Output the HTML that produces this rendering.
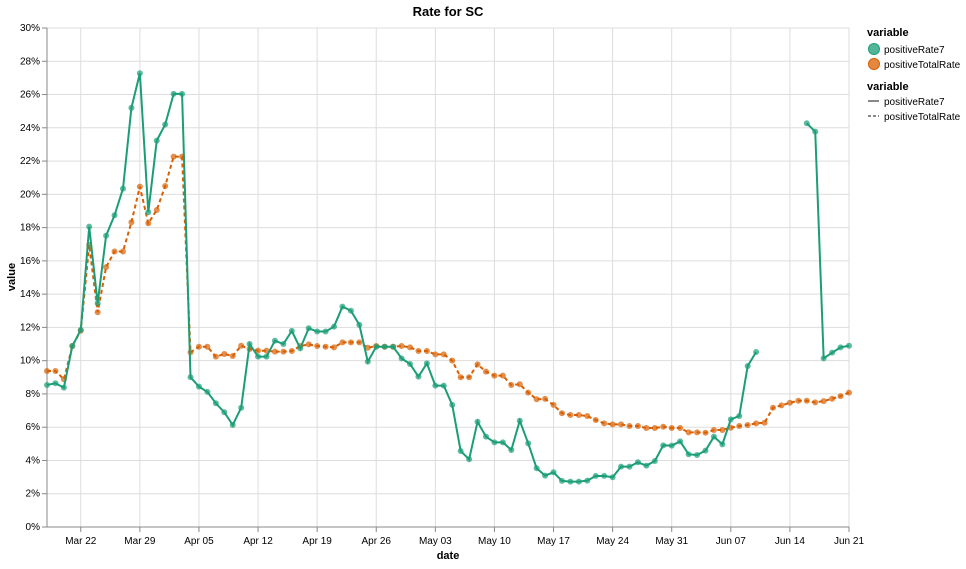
<!DOCTYPE html>
<html><head><meta charset="utf-8"><style>
body{margin:0;background:#fff;font-family:"Liberation Sans",sans-serif;}
svg text{font-family:"Liberation Sans",sans-serif;}
</style></head><body>
<svg id="chart" width="966" height="564">
<g id="grid"></g><g id="axes"></g><g id="marks"></g>
<text x="448" y="16" text-anchor="middle" font-size="13" font-weight="bold">Rate for SC</text>
<text x="448" y="559" text-anchor="middle" font-size="11" font-weight="bold">date</text>
<text transform="translate(15,277) rotate(-90)" text-anchor="middle" font-size="11" font-weight="bold">value</text>
<g>
<text x="867" y="36" font-size="11" font-weight="bold">variable</text>
<circle cx="874" cy="49" r="5.5" fill="#1b9e77" fill-opacity="0.75" stroke="#1b9e77"></circle>
<text x="884" y="53" font-size="10">positiveRate7</text>
<circle cx="874" cy="64" r="5.5" fill="#d95f02" fill-opacity="0.75" stroke="#d95f02"></circle>
<text x="884" y="68" font-size="10">positiveTotalRate</text>
<text x="867" y="90" font-size="11" font-weight="bold">variable</text>
<line x1="868" x2="879" y1="101" y2="101" stroke="#888" stroke-width="2"></line>
<text x="884" y="105" font-size="10">positiveRate7</text>
<line x1="868" x2="879" y1="116" y2="116" stroke="#888" stroke-width="2" stroke-dasharray="3,2"></line>
<text x="884" y="120" font-size="10">positiveTotalRate</text>
</g>
</svg>
<script>
const startDate = "2020-03-18";
const tickDays = [4,11,18,25,32,39,46,53,60,67,74,81,88,95];
const tickLabels = ["Mar 22","Mar 29","Apr 05","Apr 12","Apr 19","Apr 26","May 03","May 10","May 17","May 24","May 31","Jun 07","Jun 14","Jun 21"];
const yTicks = [0,2,4,6,8,10,12,14,16,18,20,22,24,26,28,30];
const positiveRate7 = [8.54,8.64,8.38,10.88,11.85,18.06,13.45,17.52,18.74,20.34,25.2,27.28,18.92,23.23,24.2,26.04,26.04,9.0,8.44,8.12,7.44,6.9,6.13,7.17,11.0,10.24,10.24,11.2,11.0,11.79,10.74,11.95,11.75,11.75,12.05,13.25,13.0,12.15,9.94,10.84,10.84,10.84,10.14,9.8,9.04,9.84,8.5,8.5,7.34,4.57,4.07,6.33,5.43,5.09,5.09,4.63,6.39,5.03,3.53,3.09,3.29,2.77,2.73,2.73,2.79,3.07,3.07,2.99,3.63,3.63,3.89,3.69,3.97,4.91,4.89,5.15,4.37,4.33,4.59,5.43,4.97,6.47,6.67,9.68,10.52,null,null,null,null,null,24.27,23.77,10.14,10.48,10.8,10.9];
const positiveTotalRate = [9.38,9.38,8.88,10.88,11.8,16.96,12.91,15.62,16.56,16.56,18.32,20.46,18.26,19.06,20.5,22.27,22.27,10.5,10.84,10.84,10.24,10.4,10.28,10.9,10.7,10.6,10.6,10.54,10.54,10.58,10.88,10.98,10.88,10.84,10.8,11.1,11.1,11.1,10.78,10.88,10.84,10.84,10.88,10.8,10.58,10.58,10.38,10.38,10.0,9.0,9.0,9.78,9.34,9.1,9.1,8.54,8.58,8.08,7.68,7.7,7.34,6.84,6.73,6.73,6.67,6.43,6.23,6.17,6.17,6.07,6.07,5.95,5.95,6.03,5.95,5.95,5.69,5.69,5.67,5.83,5.83,5.97,6.07,6.13,6.23,6.27,7.17,7.31,7.47,7.59,7.59,7.49,7.57,7.71,7.87,8.08];

const NS="http://www.w3.org/2000/svg";
const X0=47,X1=849,Y0=527,Y1=28;
const nDays=Math.max(positiveRate7.length,positiveTotalRate.length)-1;
function xs(d){return X0+(X1-X0)*d/nDays;}
function ys(v){return Y0-(Y0-Y1)*v/30;}
function mk(tag,attrs,parent){const e=document.createElementNS(NS,tag);for(const k in attrs)e.setAttribute(k,attrs[k]);parent.appendChild(e);return e;}
const grid=document.getElementById('grid'),axes=document.getElementById('axes'),marks=document.getElementById('marks');
yTicks.forEach(v=>{
  const l=mk('line',{x1:X0,x2:X1,y1:ys(v),y2:ys(v),stroke:'#ddd'},grid);
  
  
  const t=mk('line',{x1:X0-5,x2:X0,y1:ys(v),y2:ys(v),stroke:'#888'},axes);
  
  
  const tx=mk('text',{x:X0-7,y:ys(v)+3,'text-anchor':'end','font-size':10},axes);
  tx.textContent=v+'%';
  
  
});
tickDays.forEach((d,i)=>{
  const l=mk('line',{x1:xs(d),x2:xs(d),y1:Y1,y2:Y0,stroke:'#ddd'},grid);
  
  
  const t=mk('line',{x1:xs(d),x2:xs(d),y1:Y0,y2:Y0+5,stroke:'#888'},axes);
  
  
  const tx=mk('text',{x:xs(d),y:Y0+17,'text-anchor':'middle','font-size':10},axes);
  tx.textContent=tickLabels[i];
  
  
});
const ax=mk('line',{x1:X0,x2:X0,y1:Y1,y2:Y0,stroke:'#888'},axes);


const bx=mk('line',{x1:X0,x2:X1,y1:Y0,y2:Y0,stroke:'#888'},axes);



function drawSeries(vals,color,dash,name){
  let d='',pen=false;
  vals.forEach((v,i)=>{ if(v==null){pen=false;return;} d+=(pen?'L':'M')+xs(i).toFixed(2)+','+ys(v).toFixed(2); pen=true; });
  const p=mk('path',{d:d,fill:'none',stroke:color,'stroke-width':2,'stroke-dasharray':dash},marks);
  
  
  vals.forEach((v,i)=>{ if(v==null)return;
    const c=mk('circle',{cx:xs(i),cy:ys(v),r:3,fill:color,'fill-opacity':0.7},marks);
    
    
  });
}
drawSeries(positiveTotalRate,'#d95f02','4,3','positivetotalrate');
drawSeries(positiveRate7,'#1b9e77','none','positiverate7');
</script>
</body></html>
